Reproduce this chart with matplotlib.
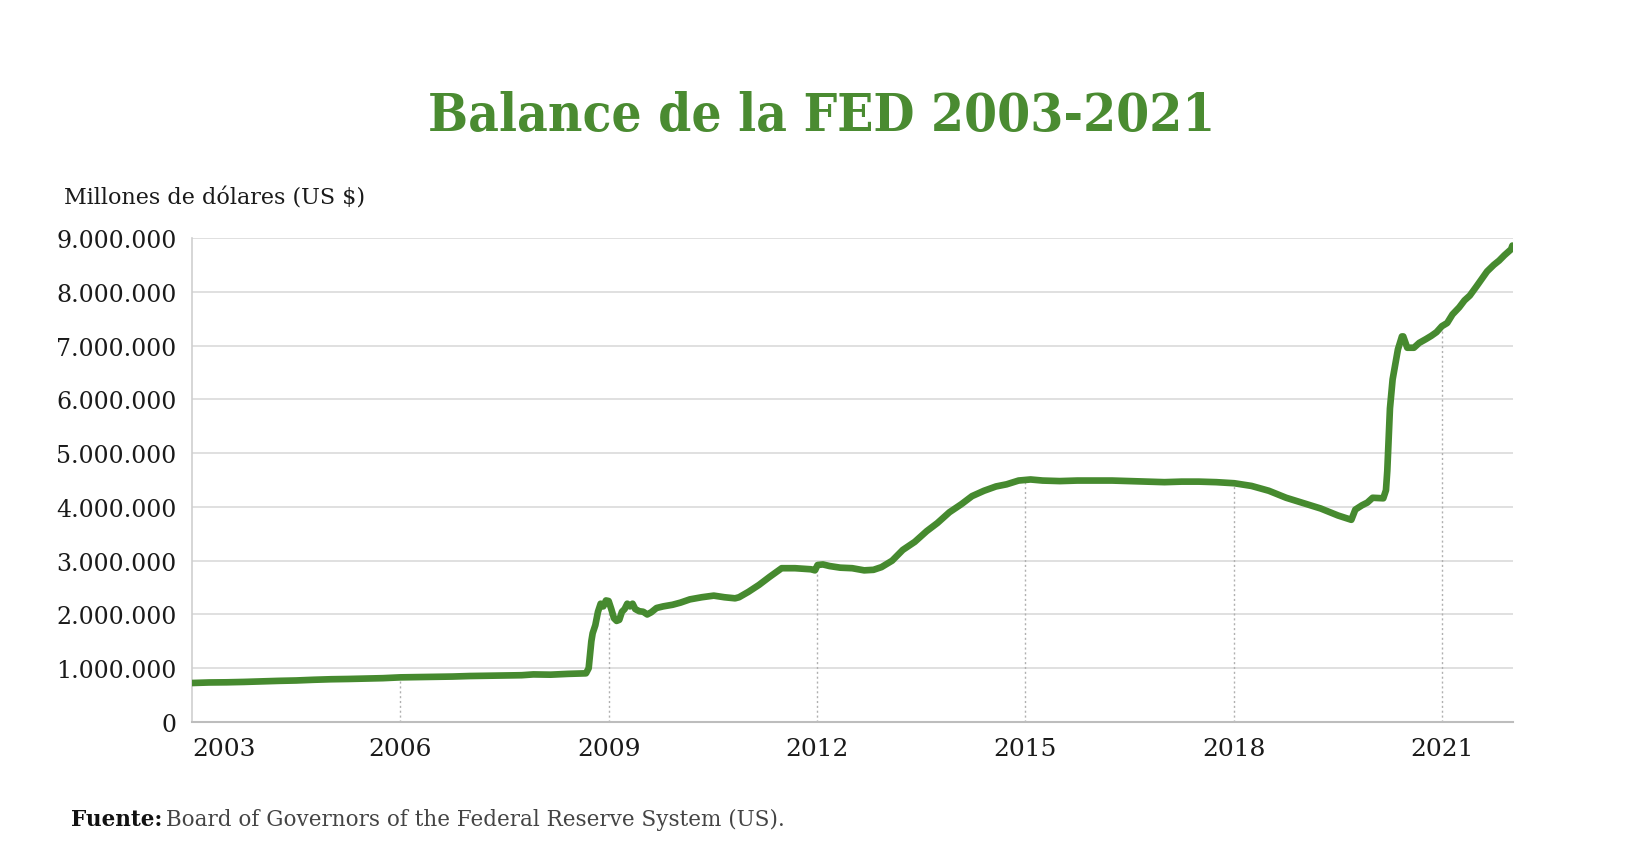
"""Balance de la FED 2003-2021 — line chart, total assets (millones de US$)."""
import numpy as np
import pandas as pd
import matplotlib
matplotlib.use("Agg")
import matplotlib.pyplot as plt  # noqa: E402
import matplotlib.dates as mdates  # noqa: E402
from matplotlib.ticker import FuncFormatter  # noqa: E402

TITLE = "Balance de la FED 2003-2021"
Y_LABEL = "Millones de dólares (US $)"
SOURCE_BOLD = "Fuente:"
SOURCE_TEXT = "Board of Governors of the Federal Reserve System (US)."

# fechas / valores (millones de US$)
DATES = [
    "2003-01-01", "2003-04-01", "2003-07-01", "2003-10-01",
    "2004-01-01", "2004-04-01", "2004-07-01", "2004-10-01",
    "2005-01-01", "2005-04-01", "2005-07-01", "2005-10-01",
    "2006-01-01", "2006-04-01", "2006-07-01", "2006-10-01",
    "2007-01-01", "2007-04-01", "2007-07-01", "2007-10-01", "2007-12-01",
    "2008-03-01", "2008-06-01", "2008-09-03", "2008-09-17", "2008-09-24",
    "2008-10-01", "2008-10-08", "2008-10-22", "2008-11-05", "2008-11-19",
    "2008-12-03", "2008-12-17", "2008-12-31", "2009-01-14", "2009-01-28",
    "2009-02-11", "2009-02-25", "2009-03-11", "2009-03-25", "2009-04-08",
    "2009-04-22", "2009-05-06", "2009-05-20", "2009-06-10", "2009-07-01",
    "2009-07-22", "2009-08-12", "2009-09-09", "2009-10-14", "2009-12-02",
    "2010-01-13", "2010-03-03", "2010-05-05", "2010-07-07", "2010-09-01",
    "2010-10-27", "2010-11-17", "2011-01-05", "2011-03-02", "2011-04-27",
    "2011-06-29", "2011-09-07", "2011-11-30", "2011-12-21", "2012-01-04",
    "2012-02-01", "2012-03-07", "2012-05-02", "2012-07-04", "2012-09-05",
    "2012-10-24", "2012-12-05", "2013-01-30", "2013-03-27", "2013-05-29",
    "2013-07-31", "2013-09-25", "2013-11-27", "2014-01-29", "2014-03-26",
    "2014-05-28", "2014-07-30", "2014-09-24", "2014-11-26", "2015-01-28",
    "2015-04-01", "2015-07-01", "2015-10-01", "2016-01-01", "2016-04-01",
    "2016-07-01", "2016-10-01", "2017-01-01", "2017-04-01", "2017-07-01",
    "2017-10-01", "2018-01-03", "2018-04-04", "2018-07-04", "2018-10-03",
    "2019-01-02", "2019-04-03", "2019-07-03", "2019-09-11", "2019-10-02",
    "2019-11-06", "2019-12-04", "2020-01-01", "2020-02-26", "2020-03-11",
    "2020-03-18", "2020-03-25", "2020-04-01", "2020-04-15", "2020-04-29",
    "2020-05-13", "2020-06-03", "2020-06-10", "2020-07-01", "2020-08-05",
    "2020-09-02", "2020-10-07", "2020-11-04", "2020-12-02", "2020-12-30",
    "2021-01-27", "2021-02-24", "2021-03-31", "2021-04-28", "2021-05-26",
    "2021-06-30", "2021-07-28", "2021-08-25", "2021-09-29", "2021-10-27",
    "2021-11-24", "2021-12-29", "2022-01-05",
]
VALUES = [
    725000, 735000, 738000, 745000,
    755000, 765000, 772000, 785000,
    795000, 800000, 808000, 815000,
    830000, 835000, 840000, 845000,
    855000, 860000, 865000, 870000, 885000,
    880000, 895000, 905000, 1000000, 1250000,
    1500000, 1650000, 1800000, 2050000, 2200000,
    2150000, 2260000, 2250000, 2100000, 1930000,
    1880000, 1900000, 2050000, 2100000, 2200000,
    2150000, 2200000, 2100000, 2060000, 2050000,
    2000000, 2040000, 2120000, 2150000, 2180000,
    2220000, 2280000, 2320000, 2350000, 2320000,
    2300000, 2320000, 2420000, 2550000, 2700000,
    2860000, 2860000, 2840000, 2820000, 2920000,
    2930000, 2900000, 2870000, 2860000, 2820000,
    2830000, 2880000, 3000000, 3200000, 3350000,
    3550000, 3700000, 3900000, 4050000, 4200000,
    4300000, 4380000, 4420000, 4490000, 4510000,
    4490000, 4480000, 4490000, 4490000, 4490000,
    4480000, 4470000, 4460000, 4470000, 4470000,
    4460000, 4440000, 4390000, 4300000, 4170000,
    4070000, 3970000, 3840000, 3760000, 3950000,
    4030000, 4080000, 4170000, 4160000, 4310000,
    4670000, 5250000, 5830000, 6370000, 6650000,
    6930000, 7170000, 7170000, 6960000, 6960000,
    7050000, 7120000, 7180000, 7250000, 7360000,
    7420000, 7580000, 7710000, 7840000, 7930000,
    8100000, 8240000, 8380000, 8500000, 8580000,
    8680000, 8790000, 8860000,
]

Y_TICKS = [0, 1000000, 2000000, 3000000, 4000000, 5000000,
           6000000, 7000000, 8000000, 9000000]
X_YEARS = [2003, 2006, 2009, 2012, 2015, 2018, 2021]

GREEN = "#468a2f"
TITLE_GREEN = "#4a8b31"
SERIF = ["DejaVu Serif"]


def _fmt_es(v, _pos=None):
    return f"{int(v):,}".replace(",", ".")


def main():
    dates = pd.to_datetime(DATES)
    values = np.array(VALUES, dtype=float)

    fig = plt.figure(figsize=(16.44, 8.54), dpi=100)
    ax = fig.add_axes([0.1168, 0.1534, 0.8035, 0.5667])

    ax.set_xlim(pd.Timestamp("2003-01-01"), pd.Timestamp("2022-01-08"))
    ax.set_ylim(0, 9000000)

    # horizontal grid
    for y in Y_TICKS[1:]:
        ax.axhline(y, color="#dadada", lw=1.2, zorder=1)

    # dotted drop lines from curve down to axis
    xnum = mdates.date2num(dates)
    for yr in X_YEARS[1:]:
        xd = mdates.date2num(pd.Timestamp(f"{yr}-01-01"))
        top = np.interp(xd, xnum, values)
        ax.vlines(xd, 0, top, colors="#b0b0b0", lw=1.0,
                  linestyles=(0, (1.5, 2)), zorder=1)

    ax.plot(dates, values, color=GREEN, lw=4.8, solid_capstyle="round",
            solid_joinstyle="round", zorder=3)

    for s in ["top", "right"]:
        ax.spines[s].set_visible(False)
    ax.spines["left"].set_color("#cfcfcf")
    ax.spines["bottom"].set_color("#bdbdbd")
    ax.spines["left"].set_linewidth(1.2)
    ax.spines["bottom"].set_linewidth(1.5)

    ax.set_yticks(Y_TICKS)
    ax.yaxis.set_major_formatter(FuncFormatter(_fmt_es))
    ax.set_xticks([pd.Timestamp(f"{y}-01-01") for y in X_YEARS])
    ax.set_xticklabels([str(y) for y in X_YEARS])
    ax.tick_params(axis="both", length=0, colors="#1a1a1a")
    ax.tick_params(axis="y", pad=11, labelsize=17)
    ax.tick_params(axis="x", pad=11, labelsize=18)
    for lab in ax.get_xticklabels() + ax.get_yticklabels():
        lab.set_family(SERIF)
    first = ax.get_xticklabels()[0]
    first.set_ha("left")

    fig.text(0.5, 0.863, TITLE, ha="center", va="center", fontsize=38,
             fontweight="bold", fontstretch="condensed", color=TITLE_GREEN,
             family=SERIF)
    fig.text(64 / 1644, 1 - 199 / 854, Y_LABEL, ha="left", va="center",
             fontsize=16, color="#1a1a1a", family=SERIF)

    t = fig.text(71 / 1644, 1 - 820 / 854, SOURCE_BOLD, ha="left", va="center",
                 fontsize=15.5, fontweight="bold", color="#111111", family=SERIF)
    fig.canvas.draw()
    bb = t.get_window_extent()
    fig.text((bb.x1 + 4) / 1644, 1 - 820 / 854, SOURCE_TEXT, ha="left",
             va="center", fontsize=15.5, color="#444444", family=SERIF)

    fig.savefig("out.png", dpi=100)
    plt.close(fig)


if __name__ == "__main__":
    main()
